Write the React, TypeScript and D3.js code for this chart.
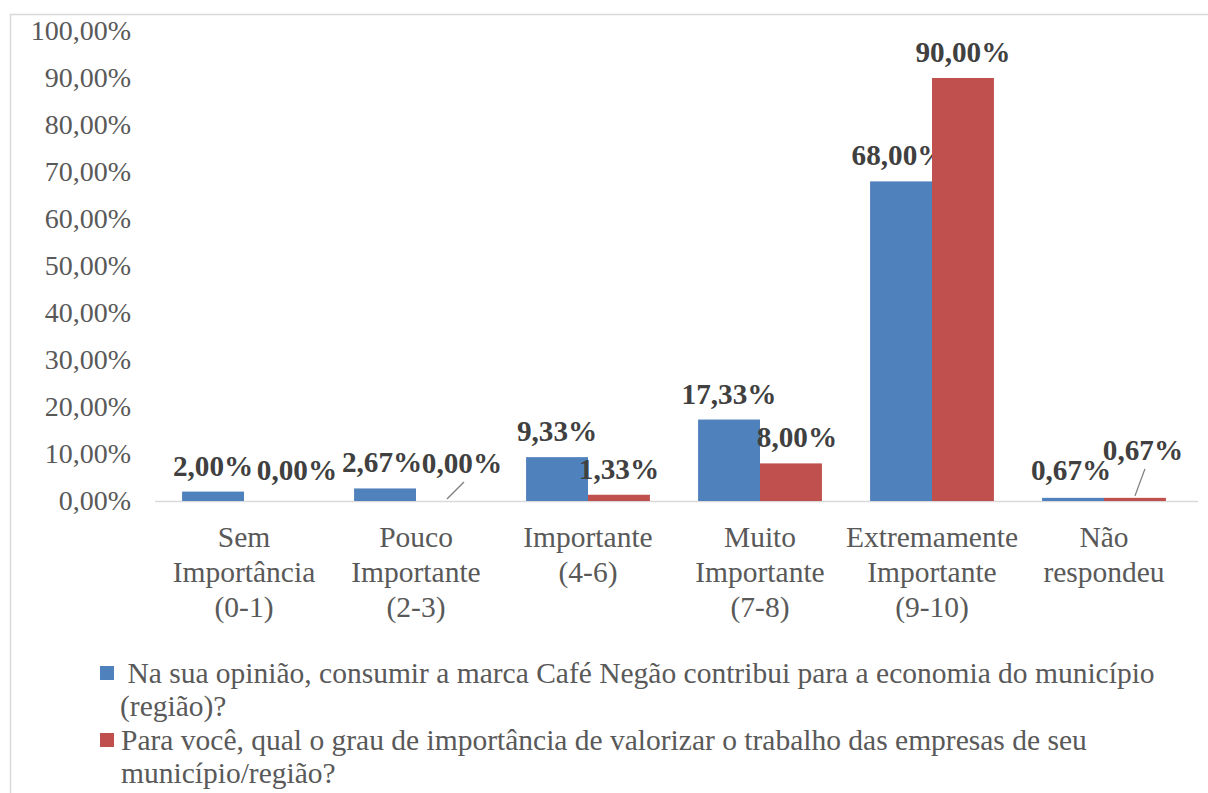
import * as d3 from 'd3';

const categories = [
  ['Sem', 'Importância', '(0-1)'],
  ['Pouco', 'Importante', '(2-3)'],
  ['Importante', '(4-6)'],
  ['Muito', 'Importante', '(7-8)'],
  ['Extremamente', 'Importante', '(9-10)'],
  ['Não', 'respondeu'],
];
const seriesA = [2.0, 2.67, 9.33, 17.33, 68.0, 0.67];
const seriesB = [0.0, 0.0, 1.33, 8.0, 90.0, 0.67];
const yTicks = [0, 10, 20, 30, 40, 50, 60, 70, 80, 90, 100];
const legendA = [' Na sua opinião, consumir a marca Café Negão contribui para a economia do município', '(região)?'];
const legendB = ['Para você, qual o grau de importância de valorizar o trabalho das empresas de seu', 'município/região?'];

// label nudges [dx, dy] per bar, and whether a leader line is drawn
const nudgeA = [[0, 0], [-3, 0], [0, 0], [0, 0], [-2, 0], [-2, -2]];
const nudgeB = [[22, -5], [15, -12], [0, 0], [6, 0], [0, 0], [8, -22]];
const leaderB = [false, true, false, false, false, true];

const colors = { blue: '#4f81bd', red: '#c0504d', tick: '#595959', label: '#404040', axis: '#d9d9d9' };
const font = '"Liberation Serif", "Times New Roman", serif';
const fmt = (v: number) => v.toFixed(2).replace('.', ',') + '%';

export default function App() {
  const W = 1208;
  const H = 793;
  const x0 = d3.scaleBand<number>().domain(d3.range(categories.length)).range([158, 1190]).paddingInner(0.28).paddingOuter(0.14);
  const x1 = d3.scaleBand<number>().domain([0, 1]).range([0, x0.bandwidth()]);
  const y = d3.scaleLinear().domain([0, 100]).range([501, 31]);
  const series = [
    { values: seriesA, color: colors.blue, nudge: nudgeA, leader: seriesA.map(() => false) },
    { values: seriesB, color: colors.red, nudge: nudgeB, leader: leaderB },
  ];

  return (
    <svg width={W} height={H} style={{ position: 'absolute', left: 0, top: 0, fontFamily: font }}>
      <rect x={10.5} y={14.5} width={1210} height={800} fill="white" stroke={colors.axis} strokeWidth={1.5} />

      {yTicks.map(t => (
        <text key={t} x={131} y={y(t) + 9} textAnchor="end" fontSize={28} fill={colors.tick}>
          {fmt(t)}
        </text>
      ))}

      <line x1={155} x2={1198} y1={501.5} y2={501.5} stroke={colors.axis} strokeWidth={1.5} />

      {series.map((s, si) =>
        s.values.map((v, i) => {
          const bx = (x0(i) ?? 0) + (x1(si) ?? 0);
          const cx = bx + x1.bandwidth() / 2;
          const top = y(v);
          const lx = cx + s.nudge[i][0];
          const ly = top - 16 + s.nudge[i][1];
          return (
            <g key={`${si}-${i}`}>
              <rect x={bx} y={top} width={x1.bandwidth()} height={y(0) - top} fill={s.color} />
              {s.leader[i] && (
                <line x1={cx} y1={top - 2} x2={lx + 2} y2={ly + 9} stroke="#7f7f7f" strokeWidth={1.3} />
              )}
              <text x={lx} y={ly} textAnchor="middle" fontSize={29.2} fontWeight="bold" fill={colors.label}>
                {fmt(v)}
              </text>
            </g>
          );
        })
      )}

      {categories.map((lines, i) => (
        <text key={i} textAnchor="middle" fontSize={29.5} fill={colors.tick}>
          {lines.map((l, j) => (
            <tspan key={j} x={(x0(i) ?? 0) + x0.bandwidth() / 2} y={547 + j * 35}>
              {l}
            </tspan>
          ))}
        </text>
      ))}

      <rect x={100} y={666} width={14} height={14} fill={colors.blue} />
      <text fontSize={29.5} fill={colors.tick} style={{ whiteSpace: 'pre' }}>
        {legendA.map((l, j) => (
          <tspan key={j} x={120} y={683 + j * 33}>
            {l}
          </tspan>
        ))}
      </text>
      <rect x={100} y={733} width={14} height={14} fill={colors.red} />
      <text fontSize={29.5} fill={colors.tick}>
        {legendB.map((l, j) => (
          <tspan key={j} x={121} y={750 + j * 33}>
            {l}
          </tspan>
        ))}
      </text>
    </svg>
  );
}
